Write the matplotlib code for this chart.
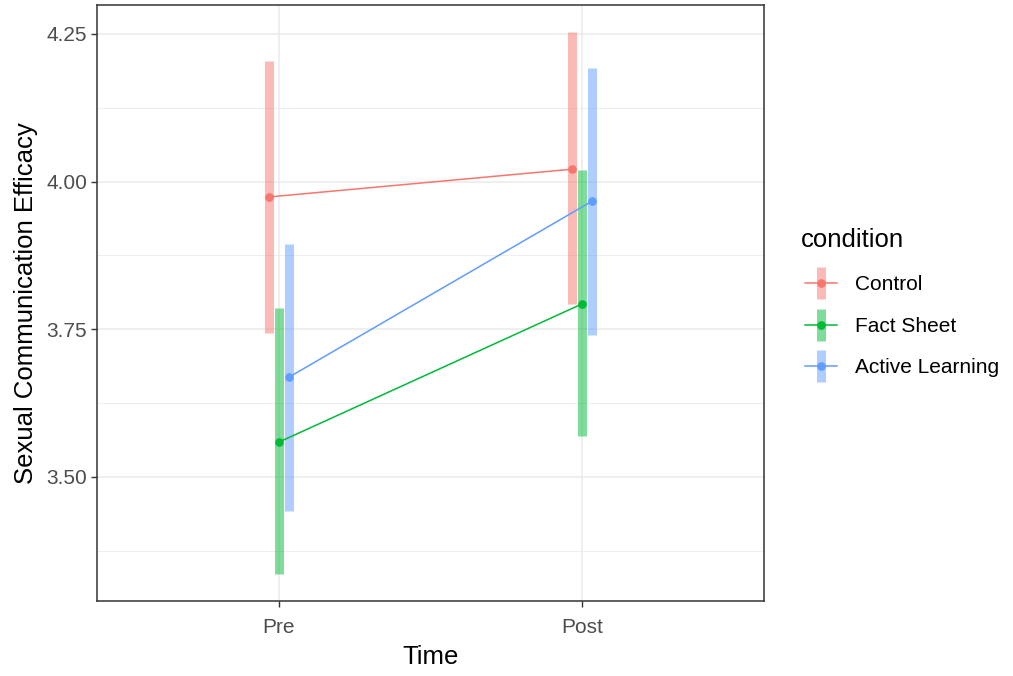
import matplotlib.pyplot as plt
import numpy as np
from matplotlib.lines import Line2D

plt.rcParams['font.family'] = ['Liberation Sans', 'DejaVu Sans']

times = ['Pre', 'Post']
conditions = ['Control', 'Fact Sheet', 'Active Learning']
colors = ['#F8766D', '#00BA38', '#619CFF']

means = {
    'Control': [3.974, 4.021],
    'Fact Sheet': [3.559, 3.793],
    'Active Learning': [3.669, 3.967],
}
lower = {
    'Control': [3.743, 3.792],
    'Fact Sheet': [3.336, 3.570],
    'Active Learning': [3.442, 3.741],
}
upper = {
    'Control': [4.205, 4.254],
    'Fact Sheet': [3.786, 4.020],
    'Active Learning': [3.895, 4.193],
}

W, H = 1013, 676
fig = plt.figure(figsize=(W / 100, H / 100), dpi=100)
ax = fig.add_axes([97 / W, 1 - 601 / H, 667 / W, 596 / H])

x = np.arange(1, len(times) + 1)
offsets = [-0.1 / 3, 0, 0.1 / 3]

# grid, theme_bw style
for y in [4.25, 4.0, 3.75, 3.5]:
    ax.axhline(y, color='#EBEBEB', lw=1.1, zorder=0)
for y in [4.125, 3.875, 3.625, 3.375]:
    ax.axhline(y, color='#EBEBEB', lw=0.6, zorder=0)
for xi in x:
    ax.axvline(xi, color='#EBEBEB', lw=1.1, zorder=0)

for cond, col, off in zip(conditions, colors, offsets):
    xs = x + off
    ax.vlines(xs, lower[cond], upper[cond], color=col, lw=6.5, alpha=0.5,
              capstyle='butt', zorder=2)
    ax.plot(xs, means[cond], color=col, lw=1.1, marker='o', ms=5.2, zorder=3)

ax.set_xlim(0.4, 2.6)
ax.set_ylim(3.290, 4.299)
ax.set_xticks(x)
ax.set_xticklabels(times)
ax.set_yticks([3.5, 3.75, 4.0, 4.25])
ax.set_yticklabels(['3.50', '3.75', '4.00', '4.25'])
ax.tick_params(colors='#333333', labelcolor='#4D4D4D', labelsize=15, length=4, width=1, pad=3)
ax.tick_params(axis='x', pad=8)
for s in ax.spines.values():
    s.set_color('#333333')
    s.set_linewidth(1.1)

ax.set_xlabel('Time', fontsize=18.5, labelpad=6)
ax.set_ylabel('Sexual Communication Efficacy', fontsize=18.5, labelpad=6)


# legend drawn by hand, in pixel positions
def fx(px):
    return px / W


def fy(py):
    return 1 - py / H


fig.text(fx(801), fy(240), 'condition', fontsize=18.5, va='center', ha='left')
for i, (cond, col) in enumerate(zip(conditions, colors)):
    yc = 283 + 41.7 * i
    fig.add_artist(Line2D([fx(821), fx(821)], [fy(yc + 16), fy(yc - 16)],
                          color=col, lw=6.5, alpha=0.5, solid_capstyle='butt'))
    fig.add_artist(Line2D([fx(805), fx(837)], [fy(yc), fy(yc)], color=col, lw=1.1))
    fig.add_artist(Line2D([fx(821)], [fy(yc)], color=col, marker='o', ms=5.2, ls='none'))
    fig.text(fx(855), fy(yc + 1.5), cond, fontsize=15, va='center', ha='left')

fig.savefig('out.png', dpi=100)
